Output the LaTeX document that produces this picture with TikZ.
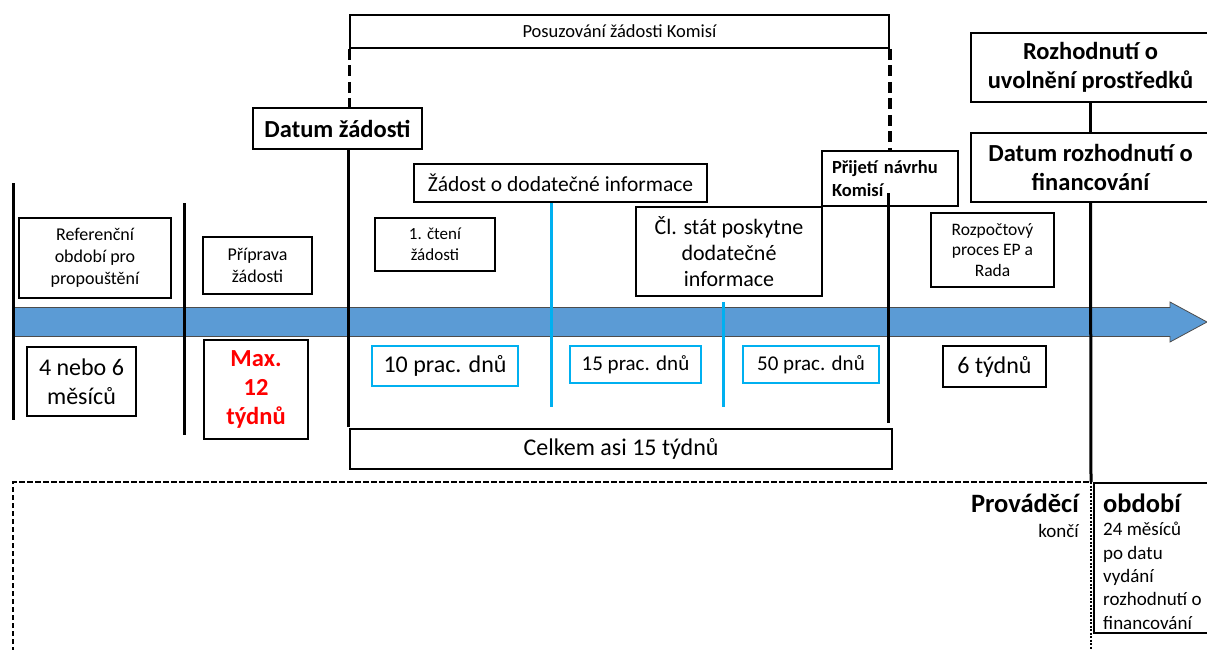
\documentclass[tikz,border=0pt]{standalone}
\usepackage{fontspec}
\setmainfont{Carlito}
\definecolor{arrowblue}{HTML}{5B9BD5}
\definecolor{cyanline}{HTML}{00B0F0}
\definecolor{redtext}{HTML}{FF0000}
\begin{document}
\begin{tikzpicture}[x=1pt,y=-1pt,
  box/.style={draw, line width=1.8pt, inner sep=0pt, align=center},
  cbox/.style={draw=cyanline, line width=1.8pt, inner sep=0pt, align=center},
  vline/.style={line width=3pt},
  dline/.style={line width=3.2pt, dash pattern=on 11pt off 5.5pt},
  cline/.style={draw=cyanline, line width=3pt},
  rectdash/.style={line width=1.7pt, dash pattern=on 5.5pt off 2.5pt},
  finedash/.style={line width=1.2pt, dash pattern=on 2pt off 1.5pt},
  fA/.style={font=\fontsize{18}{22}\selectfont},
  fB/.style={font=\fontsize{24}{29}\selectfont},
  fBb/.style={font=\fontsize{24.5}{29}\selectfont\bfseries},
  fC/.style={font=\fontsize{21.5}{26}\selectfont}]
\useasboundingbox (0,0) rectangle (1207,650);

% timeline arrow
\filldraw[fill=arrowblue, draw=black!70, line width=0.8pt]
  (13,307.5) -- (1170,307.5) -- (1170,302) -- (1207,322) -- (1170,342)
  -- (1170,336.5) -- (13,336.5) -- cycle;

% boxes above the timeline
\node[box, minimum width=539pt, minimum height=33pt, font=\fontsize{18.5}{22}\selectfont] (posuz) at (619.5,31.5) {Posuzování žádosti Komisí};
\node[box, fBb, minimum width=169pt, minimum height=41pt] (datumZ) at (337.5,128.5) {Datum žádosti};
\node[box, fC, minimum width=293pt, minimum height=38pt] (zadostInfo) at (560.5,183) {Žádost o dodatečné informace};
\node[box, font=\fontsize{17}{21}\selectfont, minimum width=120pt, minimum height=53pt] (cteni) at (435,244.5) {1. čtení\\žádosti};
\node[box, fA, minimum width=152pt, minimum height=80pt] (referen) at (95,258) {Referenční\\období pro\\propouštění};
\node[box, fA, minimum width=109pt, minimum height=57pt] (priprava) at (257.5,265.5) {Příprava\\žádosti};
\node[box, font=\fontsize{22}{26}\selectfont, minimum width=186pt, minimum height=89pt] (clstat) at (729,251.5) {Čl. stát poskytne\\dodatečné\\informace};
\node[box, font=\fontsize{18.5}{23}\selectfont\bfseries, text width=116pt, inner xsep=10pt, align=left, minimum height=55pt] (prijeti) at (890,178.5) {Přijetí návrhu\\Komisí};
\node[box, font=\fontsize{17.5}{20.5}\selectfont, minimum width=123pt, minimum height=74pt] (rozpocet) at (992.5,250) {Rozpočtový\\proces EP a\\Rada};
\node[box, fBb, minimum width=239pt, minimum height=69pt] (uvolneni) at (1090.5,67.5) {Rozhodnutí o\\uvolnění prostředků};
\node[box, fBb, minimum width=239pt, minimum height=69pt] (datumR) at (1090.5,167.5) {Datum rozhodnutí o\\financování};

% boxes below the timeline
\node[box, fB, minimum width=109pt, minimum height=69pt] (mesice) at (81.5,381.5) {4 nebo 6\\měsíců};
\node[box, fBb, text=redtext, minimum width=104pt, minimum height=99pt] (max12) at (256,389.5) {Max.\\12\\týdnů};
\node[cbox, fB, minimum width=146pt, minimum height=40pt] (d10) at (445,366) {10 prac. dnů};
\node[cbox, font=\fontsize{21}{25}\selectfont, minimum width=131pt, minimum height=37pt] (d15) at (635.5,364.5) {15 prac. dnů};
\node[cbox, font=\fontsize{21}{25}\selectfont, minimum width=136pt, minimum height=37pt] (d50) at (811,364.5) {50 prac. dnů};
\node[box, fB, minimum width=103pt, minimum height=41pt] (t6) at (994.5,366.5) {6 týdnů};
\node[box, fB, minimum width=542pt, minimum height=40pt] (celkem) at (621,449) {Celkem asi 15 týdnů};

% vertical markers
\coordinate (v1t) at (13,183);
\coordinate (v1b) at (13,420);
\coordinate (v2t) at (184,203);
\coordinate (v2b) at (184,435);
\coordinate (v3b) at (348,427);
\coordinate (v4t) at (888,193);
\coordinate (v4b) at (888,423);
\coordinate (c1b) at (551,407);
\coordinate (c2t) at (723,302);
\coordinate (c2b) at (723,407);
\draw[vline] (v1t) -- (v1b);
\draw[vline] (v2t) -- (v2b);
\draw[vline] (datumZ.south -| v3b) -- (v3b);
\draw[vline] (v4t) -- (v4b);
\draw[cline] (zadostInfo.south -| c1b) -- (c1b);
\draw[cline] (c2t) -- (c2b);
\draw[dline] (posuz.south west) -- (posuz.south west |- datumZ.north);
\draw[dline] (posuz.south east) -- (posuz.south east |- prijeti.north);
\draw[vline] (uvolneni.south) -- (datumR.north);

% implementation period
\coordinate (dcorner) at (1091,482);
\coordinate (leftend) at (13,660);
\coordinate (rightend) at (1091,660);
\draw[vline] (datumR.south) -- (dcorner);
\draw[rectdash] (leftend) -- (leftend |- dcorner) -- (dcorner);
\draw[finedash] (dcorner) -- (rightend);
\node[draw, line width=1.8pt, anchor=north west, minimum width=125pt, minimum height=150pt, inner sep=0pt] (obdobiBox) at (1093,482) {};
\node[anchor=base west, inner sep=0pt, font=\fontsize{26.5}{30}\selectfont\bfseries] (obdobiT) at (1103,512) {období};
\node[anchor=base west, inner sep=0pt, align=left, font=\fontsize{19}{23.3}\selectfont] (obdobiS) at (1103,629) {24 měsíců\\po datu\\vydání\\rozhodnutí o\\financování};
\node[anchor=base east, inner sep=0pt, font=\fontsize{26.5}{30}\selectfont\bfseries] (provadeci) at (1079,512) {Prováděcí};
\node[anchor=base east, inner sep=0pt, font=\fontsize{19}{23.3}\selectfont] (konci) at (1079,537) {končí};
\end{tikzpicture}
\end{document}
